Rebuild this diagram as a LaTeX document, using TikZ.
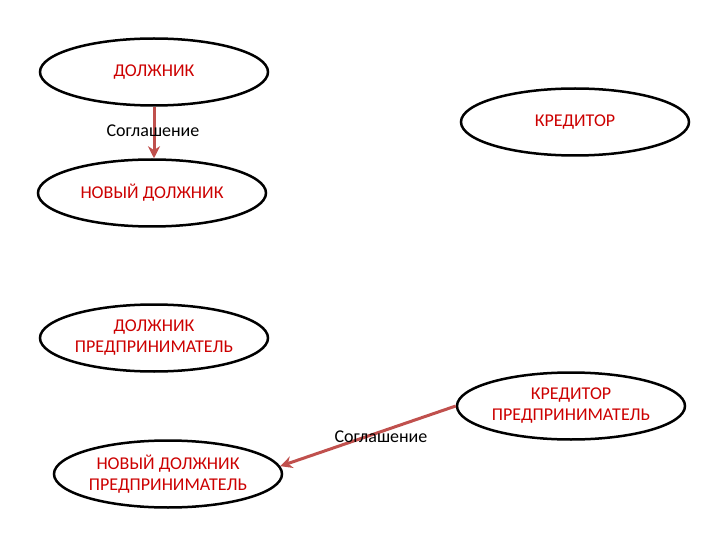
\documentclass[tikz,border=0pt]{standalone}
\usepackage{fontspec}
\setmainfont{Carlito}
\usepackage{xcolor}
\usetikzlibrary{arrows.meta,shapes.geometric,positioning}
\definecolor{partytext}{HTML}{CC0000}
\definecolor{dealline}{HTML}{C0504D}

\begin{document}
\begin{tikzpicture}[x=1pt, y=-1pt, font=\fontsize{18}{21}\selectfont, party/.style = {draw, ellipse, line width=2.5pt, align=center, text=partytext, minimum width=228pt, minimum height=67pt, inner sep=0pt}, deal/.style = {draw=dealline, line width=3pt, -{Stealth[length=12pt, width=12pt]}}]
\useasboundingbox (0,0) rectangle (720,540);

\node[party] (debtor) at (154,72) {ДОЛЖНИК};
\node[party] (newDebtor) at (152,193) {НОВЫЙ ДОЛЖНИК};
\node[party] (creditor) at (575,122) {КРЕДИТОР};
\node[party] (debtorEnt) at (154,338) {ДОЛЖНИК\\ПРЕДПРИНИМАТЕЛЬ};
\node[party] (creditorEnt) at (571,406) {КРЕДИТОР\\ПРЕДПРИНИМАТЕЛЬ};
\node[party] (newDebtorEnt) at (168,474) {НОВЫЙ ДОЛЖНИК\\ПРЕДПРИНИМАТЕЛЬ};

\draw[deal] (debtor.south) -- (debtor.south |- newDebtor.north);
\draw[deal] (creditorEnt.west) -- (newDebtorEnt.4);

\node (deal1) at (153,131) {Соглашение};
\node (deal2) at (381,437) {Соглашение};
\end{tikzpicture}
\end{document}
